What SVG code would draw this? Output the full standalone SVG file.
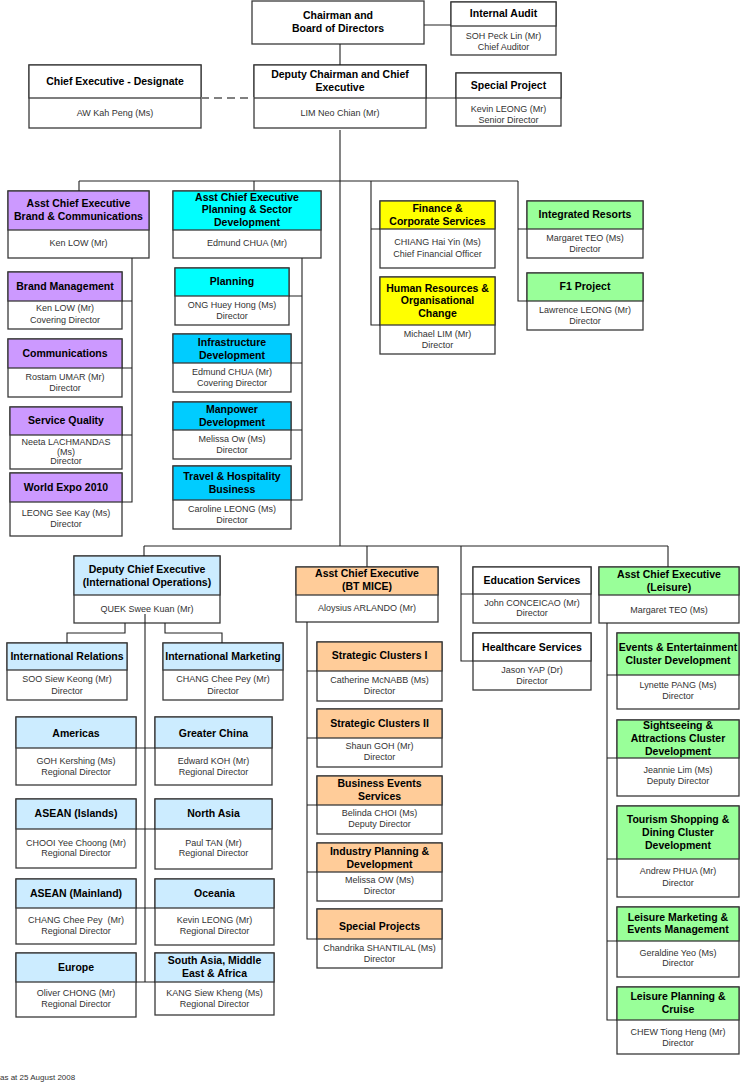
<svg xmlns="http://www.w3.org/2000/svg" width="740" height="1084" viewBox="0 0 740 1084">
<style>
.bx{stroke:#3a3a3a;stroke-width:1.3}
.wh{fill:#fff}.pu{fill:#CC99FF}.cy{fill:#00FFFF}.bl{fill:#00CCFF}.ye{fill:#FFFF00}.gr{fill:#99FF99}.lb{fill:#CCECFF}.or{fill:#FFCC99}
.h{font-family:"Liberation Sans",Arial,sans-serif;font-weight:bold;font-size:10.5px;fill:#000;text-anchor:middle;dominant-baseline:central}
.b{font-family:"Liberation Sans",Arial,sans-serif;font-size:9px;fill:#333;text-anchor:middle;dominant-baseline:central}
.ft{font-family:"Liberation Sans",Arial,sans-serif;font-size:8px;fill:#333}
.c{fill:none;stroke:#222;stroke-width:1.1}
.d{fill:none;stroke:#808080;stroke-width:2;stroke-dasharray:8 5}
</style>
<rect width="740" height="1084" fill="#fff"/>
<g id="chairman"><rect class="bx wh" x="252" y="1" width="172" height="43"/><text class="h" x="338" y="15">Chairman and</text><text class="h" x="338" y="28">Board of Directors</text></g>
<g id="internal-audit"><rect class="bx wh" x="451" y="2" width="105" height="53"/><rect class="bx wh" x="451" y="2" width="105" height="24"/><text class="h" x="503.5" y="13">Internal Audit</text><text class="b" x="503.5" y="36">SOH Peck Lin (Mr)</text><text class="b" x="503.5" y="47">Chief Auditor</text></g>
<g id="deputy-chairman"><rect class="bx wh" x="254" y="65" width="172" height="63"/><rect class="bx wh" x="254" y="65" width="172" height="33"/><text class="h" x="340" y="74">Deputy Chairman and Chief</text><text class="h" x="340" y="87">Executive</text><text class="b" x="340" y="113">LIM Neo Chian (Mr)</text></g>
<g id="ce-designate"><rect class="bx wh" x="29" y="65" width="172" height="63"/><rect class="bx wh" x="29" y="65" width="172" height="33"/><text class="h" x="115" y="81">Chief Executive - Designate</text><text class="b" x="115" y="113">AW Kah Peng (Ms)</text></g>
<g id="special-project"><rect class="bx wh" x="456" y="73" width="105" height="53"/><rect class="bx wh" x="456" y="73" width="105" height="25"/><text class="h" x="508.5" y="85">Special Project</text><text class="b" x="508.5" y="109">Kevin LEONG (Mr)</text><text class="b" x="508.5" y="120">Senior Director</text></g>
<g id="ace-brand"><rect class="bx wh" x="8" y="191" width="141" height="67"/><rect class="bx pu" x="8" y="191" width="141" height="39"/><text class="h" x="78.5" y="203">Asst Chief Executive</text><text class="h" x="78.5" y="216">Brand &amp; Communications</text><text class="b" x="78.5" y="243">Ken LOW (Mr)</text></g>
<g id="ace-planning"><rect class="bx wh" x="173" y="191" width="148" height="67"/><rect class="bx cy" x="173" y="191" width="148" height="39"/><text class="h" x="247" y="197">Asst Chief Executive</text><text class="h" x="247" y="209">Planning &amp; Sector</text><text class="h" x="247" y="222">Development</text><text class="b" x="247" y="243">Edmund CHUA (Mr)</text></g>
<g id="finance"><rect class="bx wh" x="380" y="201" width="115" height="67"/><rect class="bx ye" x="380" y="201" width="115" height="28"/><text class="h" x="437.5" y="208">Finance &amp;</text><text class="h" x="437.5" y="221">Corporate Services</text><text class="b" x="437.5" y="242">CHIANG Hai Yin (Ms)</text><text class="b" x="437.5" y="254">Chief Financial Officer</text></g>
<g id="hr"><rect class="bx wh" x="380" y="277" width="115" height="77"/><rect class="bx ye" x="380" y="277" width="115" height="48"/><text class="h" x="437.5" y="288">Human Resources &amp;</text><text class="h" x="437.5" y="300">Organisational</text><text class="h" x="437.5" y="313">Change</text><text class="b" x="437.5" y="334">Michael LIM (Mr)</text><text class="b" x="437.5" y="345">Director</text></g>
<g id="integrated-resorts"><rect class="bx wh" x="527" y="201" width="116" height="57"/><rect class="bx gr" x="527" y="201" width="116" height="28"/><text class="h" x="585" y="214">Integrated Resorts</text><text class="b" x="585" y="238">Margaret TEO (Ms)</text><text class="b" x="585" y="249">Director</text></g>
<g id="f1-project"><rect class="bx wh" x="527" y="273" width="116" height="57"/><rect class="bx gr" x="527" y="273" width="116" height="28"/><text class="h" x="585" y="286">F1 Project</text><text class="b" x="585" y="310">Lawrence LEONG (Mr)</text><text class="b" x="585" y="321">Director</text></g>
<g id="brand-management"><rect class="bx wh" x="8" y="272" width="114" height="57"/><rect class="bx pu" x="8" y="272" width="114" height="29"/><text class="h" x="65" y="286">Brand Management</text><text class="b" x="65" y="308">Ken LOW (Mr)</text><text class="b" x="65" y="320">Covering Director</text></g>
<g id="communications"><rect class="bx wh" x="8" y="339" width="114" height="58"/><rect class="bx pu" x="8" y="339" width="114" height="29"/><text class="h" x="65" y="353">Communications</text><text class="b" x="65" y="377">Rostam UMAR (Mr)</text><text class="b" x="65" y="388">Director</text></g>
<g id="service-quality"><rect class="bx wh" x="10" y="407" width="112" height="62"/><rect class="bx pu" x="10" y="407" width="112" height="28"/><text class="h" x="66" y="420">Service Quality</text><text class="b" x="66" y="442">Neeta LACHMANDAS</text><text class="b" x="66" y="452">(Ms)</text><text class="b" x="66" y="461">Director</text></g>
<g id="world-expo"><rect class="bx wh" x="10" y="473" width="112" height="63"/><rect class="bx pu" x="10" y="473" width="112" height="29"/><text class="h" x="66" y="487">World Expo 2010</text><text class="b" x="66" y="513">LEONG See Kay (Ms)</text><text class="b" x="66" y="524">Director</text></g>
<g id="planning"><rect class="bx wh" x="175" y="268" width="114" height="57"/><rect class="bx cy" x="175" y="268" width="114" height="28"/><text class="h" x="232" y="281">Planning</text><text class="b" x="232" y="305">ONG Huey Hong (Ms)</text><text class="b" x="232" y="316">Director</text></g>
<g id="infrastructure"><rect class="bx wh" x="173" y="334" width="118" height="58"/><rect class="bx bl" x="173" y="334" width="118" height="29"/><text class="h" x="232" y="342">Infrastructure</text><text class="h" x="232" y="355">Development</text><text class="b" x="232" y="372">Edmund CHUA (Mr)</text><text class="b" x="232" y="383">Covering Director</text></g>
<g id="manpower"><rect class="bx wh" x="173" y="402" width="118" height="57"/><rect class="bx bl" x="173" y="402" width="118" height="28"/><text class="h" x="232" y="409">Manpower</text><text class="h" x="232" y="422">Development</text><text class="b" x="232" y="439">Melissa Ow (Ms)</text><text class="b" x="232" y="450">Director</text></g>
<g id="travel"><rect class="bx wh" x="173" y="466" width="118" height="63"/><rect class="bx bl" x="173" y="466" width="118" height="34"/><text class="h" x="232" y="476">Travel &amp; Hospitality</text><text class="h" x="232" y="489">Business</text><text class="b" x="232" y="509">Caroline LEONG (Ms)</text><text class="b" x="232" y="520">Director</text></g>
<g id="dce-intl"><rect class="bx wh" x="74" y="556" width="146" height="67"/><rect class="bx lb" x="74" y="556" width="146" height="39"/><text class="h" x="147" y="569">Deputy Chief Executive</text><text class="h" x="147" y="582">(International Operations)</text><text class="b" x="147" y="609">QUEK Swee Kuan (Mr)</text></g>
<g id="intl-relations"><rect class="bx wh" x="7" y="643" width="120" height="57"/><rect class="bx lb" x="7" y="643" width="120" height="27"/><text class="h" x="67" y="656">International Relations</text><text class="b" x="67" y="679">SOO Siew Keong (Mr)</text><text class="b" x="67" y="691">Director</text></g>
<g id="intl-marketing"><rect class="bx wh" x="163" y="643" width="120" height="57"/><rect class="bx lb" x="163" y="643" width="120" height="27"/><text class="h" x="223" y="656">International Marketing</text><text class="b" x="223" y="679">CHANG Chee Pey (Mr)</text><text class="b" x="223" y="691">Director</text></g>
<g id="americas"><rect class="bx wh" x="16" y="717" width="120" height="68"/><rect class="bx lb" x="16" y="717" width="120" height="31"/><text class="h" x="76" y="733">Americas</text><text class="b" x="76" y="761">GOH Kershing (Ms)</text><text class="b" x="76" y="772">Regional Director</text></g>
<g id="greater-china"><rect class="bx wh" x="155" y="717" width="117" height="68"/><rect class="bx lb" x="155" y="717" width="117" height="31"/><text class="h" x="213.5" y="733">Greater China</text><text class="b" x="213.5" y="761">Edward KOH (Mr)</text><text class="b" x="213.5" y="772">Regional Director</text></g>
<g id="asean-islands"><rect class="bx wh" x="16" y="799" width="120" height="69"/><rect class="bx lb" x="16" y="799" width="120" height="30"/><text class="h" x="76" y="813">ASEAN (Islands)</text><text class="b" x="76" y="843">CHOOI Yee Choong (Mr)</text><text class="b" x="76" y="853">Regional Director</text></g>
<g id="north-asia"><rect class="bx wh" x="155" y="799" width="117" height="70"/><rect class="bx lb" x="155" y="799" width="117" height="30"/><text class="h" x="213.5" y="813">North Asia</text><text class="b" x="213.5" y="843">Paul TAN (Mr)</text><text class="b" x="213.5" y="853">Regional Director</text></g>
<g id="asean-mainland"><rect class="bx wh" x="16" y="879" width="120" height="65"/><rect class="bx lb" x="16" y="879" width="120" height="29"/><text class="h" x="76" y="893">ASEAN (Mainland)</text><text class="b" x="76" y="920" xml:space="preserve">CHANG Chee Pey  (Mr)</text><text class="b" x="76" y="931">Regional Director</text></g>
<g id="oceania"><rect class="bx wh" x="155" y="879" width="119" height="66"/><rect class="bx lb" x="155" y="879" width="119" height="29"/><text class="h" x="214.5" y="893">Oceania</text><text class="b" x="214.5" y="920">Kevin LEONG (Mr)</text><text class="b" x="214.5" y="931">Regional Director</text></g>
<g id="europe"><rect class="bx wh" x="16" y="953" width="120" height="64"/><rect class="bx lb" x="16" y="953" width="120" height="29"/><text class="h" x="76" y="967">Europe</text><text class="b" x="76" y="993">Oliver CHONG (Mr)</text><text class="b" x="76" y="1004">Regional Director</text></g>
<g id="south-asia"><rect class="bx wh" x="155" y="953" width="119" height="62"/><rect class="bx lb" x="155" y="953" width="119" height="29"/><text class="h" x="214.5" y="960">South Asia, Middle</text><text class="h" x="214.5" y="973">East &amp; Africa</text><text class="b" x="214.5" y="993">KANG Siew Kheng (Ms)</text><text class="b" x="214.5" y="1004">Regional Director</text></g>
<g id="ace-btmice"><rect class="bx wh" x="296" y="567" width="142" height="55"/><rect class="bx or" x="296" y="567" width="142" height="28"/><text class="h" x="367" y="573">Asst Chief Executive</text><text class="h" x="367" y="586">(BT MICE)</text><text class="b" x="367" y="608">Aloysius ARLANDO (Mr)</text></g>
<g id="strategic-1"><rect class="bx wh" x="317" y="642" width="125" height="59"/><rect class="bx or" x="317" y="642" width="125" height="29"/><text class="h" x="379.5" y="655">Strategic Clusters I</text><text class="b" x="379.5" y="680">Catherine McNABB (Ms)</text><text class="b" x="379.5" y="691">Director</text></g>
<g id="strategic-2"><rect class="bx wh" x="317" y="709" width="125" height="58"/><rect class="bx or" x="317" y="709" width="125" height="29"/><text class="h" x="379.5" y="723">Strategic Clusters II</text><text class="b" x="379.5" y="746">Shaun GOH (Mr)</text><text class="b" x="379.5" y="757">Director</text></g>
<g id="business-events"><rect class="bx wh" x="317" y="776" width="125" height="58"/><rect class="bx or" x="317" y="776" width="125" height="29"/><text class="h" x="379.5" y="783">Business Events</text><text class="h" x="379.5" y="796">Services</text><text class="b" x="379.5" y="813">Belinda CHOI (Ms)</text><text class="b" x="379.5" y="824">Deputy Director</text></g>
<g id="industry-planning"><rect class="bx wh" x="317" y="843" width="125" height="58"/><rect class="bx or" x="317" y="843" width="125" height="29"/><text class="h" x="379.5" y="851">Industry Planning &amp;</text><text class="h" x="379.5" y="864">Development</text><text class="b" x="379.5" y="880">Melissa OW (Ms)</text><text class="b" x="379.5" y="891">Director</text></g>
<g id="special-projects"><rect class="bx wh" x="317" y="909" width="125" height="59"/><rect class="bx or" x="317" y="909" width="125" height="30"/><text class="h" x="379.5" y="926">Special Projects</text><text class="b" x="379.5" y="948">Chandrika SHANTILAL (Ms)</text><text class="b" x="379.5" y="959">Director</text></g>
<g id="education"><rect class="bx wh" x="473" y="567" width="118" height="56"/><rect class="bx wh" x="473" y="567" width="118" height="27"/><text class="h" x="532" y="580">Education Services</text><text class="b" x="532" y="603">John CONCEICAO (Mr)</text><text class="b" x="532" y="613">Director</text></g>
<g id="healthcare"><rect class="bx wh" x="473" y="633" width="118" height="57"/><rect class="bx wh" x="473" y="633" width="118" height="28"/><text class="h" x="532" y="647">Healthcare Services</text><text class="b" x="532" y="670">Jason YAP (Dr)</text><text class="b" x="532" y="681">Director</text></g>
<g id="ace-leisure"><rect class="bx wh" x="599" y="567" width="140" height="56"/><rect class="bx gr" x="599" y="567" width="140" height="28"/><text class="h" x="669" y="574">Asst Chief Executive</text><text class="h" x="669" y="587">(Leisure)</text><text class="b" x="669" y="610">Margaret TEO (Ms)</text></g>
<g id="events-ent"><rect class="bx wh" x="617" y="633" width="122" height="76"/><rect class="bx gr" x="617" y="633" width="122" height="42"/><text class="h" x="678" y="647">Events &amp; Entertainment</text><text class="h" x="678" y="660">Cluster Development</text><text class="b" x="678" y="685">Lynette PANG (Ms)</text><text class="b" x="678" y="696">Director</text></g>
<g id="sightseeing"><rect class="bx wh" x="617" y="720" width="122" height="76"/><rect class="bx gr" x="617" y="720" width="122" height="38"/><text class="h" x="678" y="725">Sightseeing &amp;</text><text class="h" x="678" y="738">Attractions Cluster</text><text class="h" x="678" y="751">Development</text><text class="b" x="678" y="770">Jeannie Lim (Ms)</text><text class="b" x="678" y="781">Deputy Director</text></g>
<g id="tourism-shopping"><rect class="bx wh" x="617" y="806" width="122" height="91"/><rect class="bx gr" x="617" y="806" width="122" height="53"/><text class="h" x="678" y="819">Tourism Shopping &amp;</text><text class="h" x="678" y="832">Dining Cluster</text><text class="h" x="678" y="845">Development</text><text class="b" x="678" y="871">Andrew PHUA (Mr)</text><text class="b" x="678" y="883">Director</text></g>
<g id="leisure-marketing"><rect class="bx wh" x="617" y="907" width="122" height="70"/><rect class="bx gr" x="617" y="907" width="122" height="34"/><text class="h" x="678" y="917">Leisure Marketing &amp;</text><text class="h" x="678" y="929">Events Management</text><text class="b" x="678" y="953">Geraldine Yeo (Ms)</text><text class="b" x="678" y="963">Director</text></g>
<g id="leisure-planning"><rect class="bx wh" x="617" y="987" width="122" height="67"/><rect class="bx gr" x="617" y="987" width="122" height="33"/><text class="h" x="678" y="996">Leisure Planning &amp;</text><text class="h" x="678" y="1009">Cruise</text><text class="b" x="678" y="1032">CHEW Tiong Heng (Mr)</text><text class="b" x="678" y="1043">Director</text></g>
<g id="connectors">
<path class="c" d="M340,44V65M424,25H451M426,98H456M340,130V546M79,181H518M79,181V191M254,181V191"/>
<path class="d" d="M201,98H254"/>
<path class="c" d="M371,181V325H380M371,229H380M518,181V301H527M518,229H527"/>
<path class="c" d="M132,258V502H122M122,301H132M122,368H132M122,435H132"/>
<path class="c" d="M302,258V500H291M289,296H302M291,363H302M291,430H302"/>
<path class="c" d="M144,546H668M144,546V556M367,546V567M461,546V661H473M461,594H473M668,546V567"/>
<path class="c" d="M125,623V633H67V643M165,623V633H222V643M145,614V982M136,748H155M136,829H155M136,908H155M136,982H155"/>
<path class="c" d="M307,622V939H317M307,671H317M307,738H317M307,805H317M307,872H317"/>
<path class="c" d="M607,623V1020H617M607,675H617M607,758H617M607,859H617M607,941H617"/>
</g>
<text class="ft" x="0" y="1080">as at 25 August 2008</text>
</svg>
